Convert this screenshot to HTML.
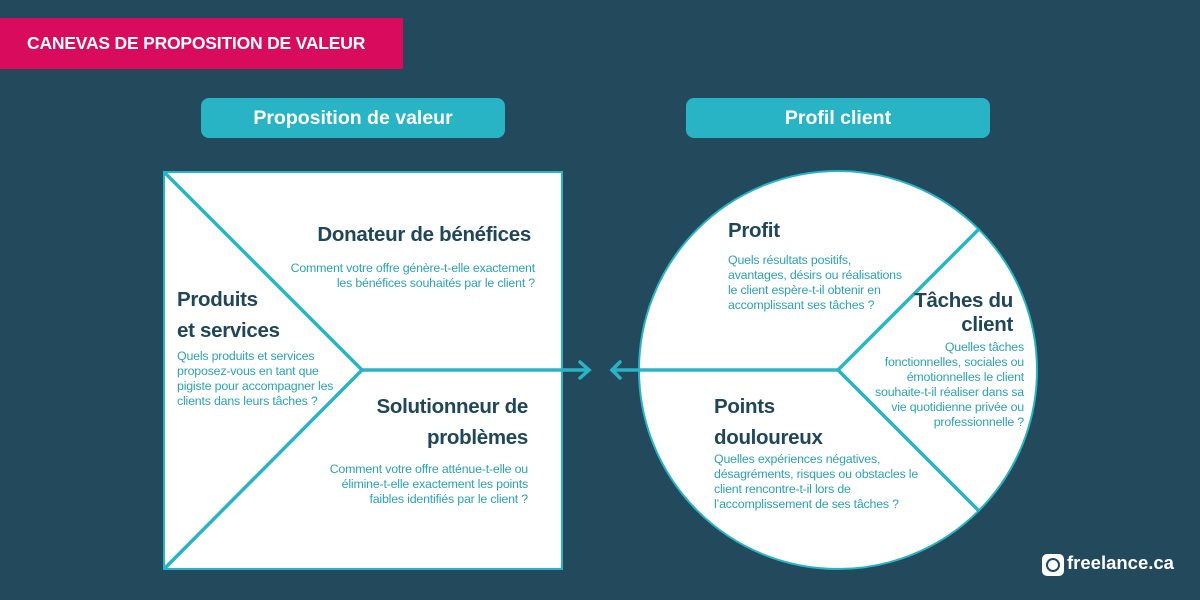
<!DOCTYPE html>
<html><head><meta charset="utf-8"><style>
*{margin:0;padding:0;box-sizing:border-box}
body{width:1200px;height:600px;background:#22495c;position:relative;overflow:hidden;font-family:"Liberation Sans",sans-serif}
.a{position:absolute;white-space:nowrap}
.h{color:#1f4659;font-weight:bold;font-size:20.5px;letter-spacing:-0.3px}
.t{color:#2ba3b3;font-size:12.4px;line-height:15px;letter-spacing:-0.2px}
.r{text-align:right}
.pill{position:absolute;background:#29b4c6;border-radius:8px;color:#fff;font-weight:bold;font-size:19.5px;text-align:center;line-height:40px;height:40px;width:304px;top:98px}
</style></head><body>
<div class="a" style="left:0;top:18px;width:403px;height:51px;background:#d90b5c;color:#fff;font-weight:bold;font-size:17.5px;line-height:51px;padding-left:27px;letter-spacing:-0.2px">CANEVAS DE PROPOSITION DE VALEUR</div>
<div class="pill" style="left:201px">Proposition de valeur</div>
<div class="pill" style="left:686px">Profil client</div>
<svg class="a" style="left:0;top:0" width="1200" height="600">
<rect x="164" y="172" width="398" height="397" fill="#fff" stroke="#29b4c6" stroke-width="2"/>
<circle cx="838" cy="370" r="199" fill="#fff" stroke="#29b4c6" stroke-width="2"/>
<g stroke="#29b4c6" stroke-width="3.5" fill="none" stroke-linecap="round">
<polyline points="165,173 362,370 165,568"/>
<line x1="362" y1="370" x2="589" y2="370"/>
<polyline points="580,362 589,370 580,378"/>
<line x1="838" y1="370" x2="612" y2="370"/>
<polyline points="620,362 612,370 620,378"/>
<line x1="838" y1="370" x2="978" y2="230"/>
<line x1="838" y1="370" x2="978" y2="510"/>
</g>
</svg>
<div class="a h r" style="right:669px;top:223px">Donateur de bénéfices</div>
<div class="a t r" style="right:665px;top:261px">Comment votre offre génère-t-elle exactement<br>les bénéfices souhaités par le client ?</div>
<div class="a h" style="left:177px;top:284px;line-height:31px">Produits<br>et services</div>
<div class="a t" style="left:177px;top:349px">Quels produits et services<br>proposez-vous en tant que<br>pigiste pour accompagner les<br>clients dans leurs tâches ?</div>
<div class="a h r" style="right:672px;top:391px;line-height:31px">Solutionneur de<br>problèmes</div>
<div class="a t r" style="right:672px;top:462px">Comment votre offre atténue-t-elle ou<br>élimine-t-elle exactement les points<br>faibles identifiés par le client ?</div>
<div class="a h" style="left:728px;top:219px">Profit</div>
<div class="a t" style="left:728px;top:253px">Quels résultats positifs,<br>avantages, désirs ou réalisations<br>le client espère-t-il obtenir en<br>accomplissant ses tâches ?</div>
<div class="a h r" style="right:187px;top:289px;line-height:24px">Tâches du<br>client</div>
<div class="a t r" style="right:176px;top:340px">Quelles tâches<br>fonctionnelles, sociales ou<br>émotionnelles le client<br>souhaite-t-il réaliser dans sa<br>vie quotidienne privée ou<br>professionnelle ?</div>
<div class="a h" style="left:714px;top:391px;line-height:31px">Points<br>douloureux</div>
<div class="a t" style="left:714px;top:452px">Quelles expériences négatives,<br>désagréments, risques ou obstacles le<br>client rencontre-t-il lors de<br>l’accomplissement de ses tâches ?</div>
<div class="a" style="left:1042px;top:554px;width:22px;height:22px;background:#fff;border-radius:5px"><div style="position:absolute;left:4px;top:4px;width:14px;height:14px;border:2.5px solid #22495c;border-radius:50%"></div></div>
<div class="a" style="left:1067px;top:552px;color:#fff;font-weight:bold;font-size:18.5px;letter-spacing:0px">freelance.ca</div>
</body></html>
